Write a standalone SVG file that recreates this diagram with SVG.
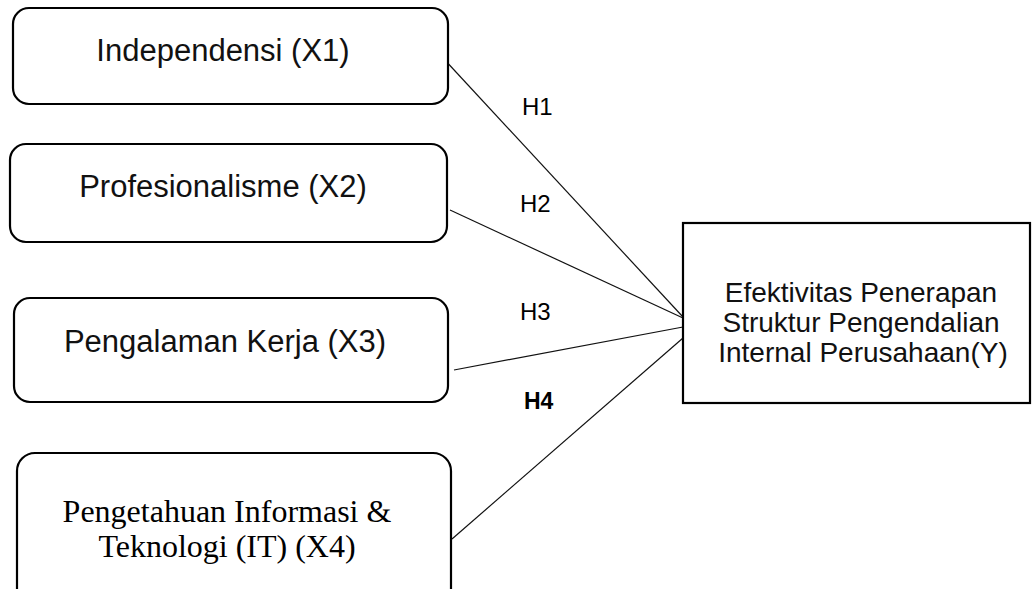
<svg xmlns="http://www.w3.org/2000/svg" width="1032" height="589" viewBox="0 0 1032 589">
<style>
.box{fill:#fff;stroke:#000;stroke-width:2.2}
.t{font-family:"Liberation Sans",Arial,sans-serif;fill:#111;text-anchor:middle}
.ts{font-family:"Liberation Serif","Times New Roman",serif;fill:#000;text-anchor:middle}
.c{stroke:#111;stroke-width:1.2;fill:none}
.h{font-family:"Liberation Sans",Arial,sans-serif;font-size:24px;fill:#000}
</style>
<rect width="1032" height="589" fill="#fff"/>
<g id="connectors">
<line class="c" x1="443" y1="58" x2="683" y2="317"/>
<line class="c" x1="450" y1="210" x2="683" y2="318"/>
<line class="c" x1="454" y1="370" x2="683" y2="327"/>
<line class="c" x1="452" y1="539" x2="683" y2="338"/>
<text class="h" x="522" y="115">H1</text>
<text class="h" x="520" y="212">H2</text>
<text class="h" x="520" y="320">H3</text>
<text class="h" x="524" y="409" style="font-weight:bold;font-size:23px">H4</text>
</g>
<g id="x1">
<rect class="box" x="13" y="8" width="435" height="96" rx="16"/>
<text class="t" x="223" y="61" font-size="31">Independensi (X1)</text>
</g>
<g id="x2">
<rect class="box" x="10" y="144" width="437" height="98" rx="16"/>
<text class="t" x="223" y="197" font-size="31">Profesionalisme (X2)</text>
</g>
<g id="x3">
<rect class="box" x="14" y="298" width="434" height="104" rx="16"/>
<text class="t" x="225" y="352" font-size="31">Pengalaman Kerja (X3)</text>
</g>
<g id="x4">
<rect class="box" x="17" y="453" width="434" height="160" rx="18"/>
<text class="ts" x="227" y="522" font-size="32">Pengetahuan Informasi &amp;</text>
<text class="ts" x="227" y="557" font-size="32">Teknologi (IT) (X4)</text>
</g>
<g id="y">
<rect class="box" x="683" y="223" width="347" height="180" rx="0"/>
<text class="t" x="861" y="302" font-size="28">Efektivitas Penerapan</text>
<text class="t" x="861" y="332" font-size="28">Struktur Pengendalian</text>
<text class="t" x="863" y="362" font-size="28">Internal Perusahaan(Y)</text>
</g>
</svg>
